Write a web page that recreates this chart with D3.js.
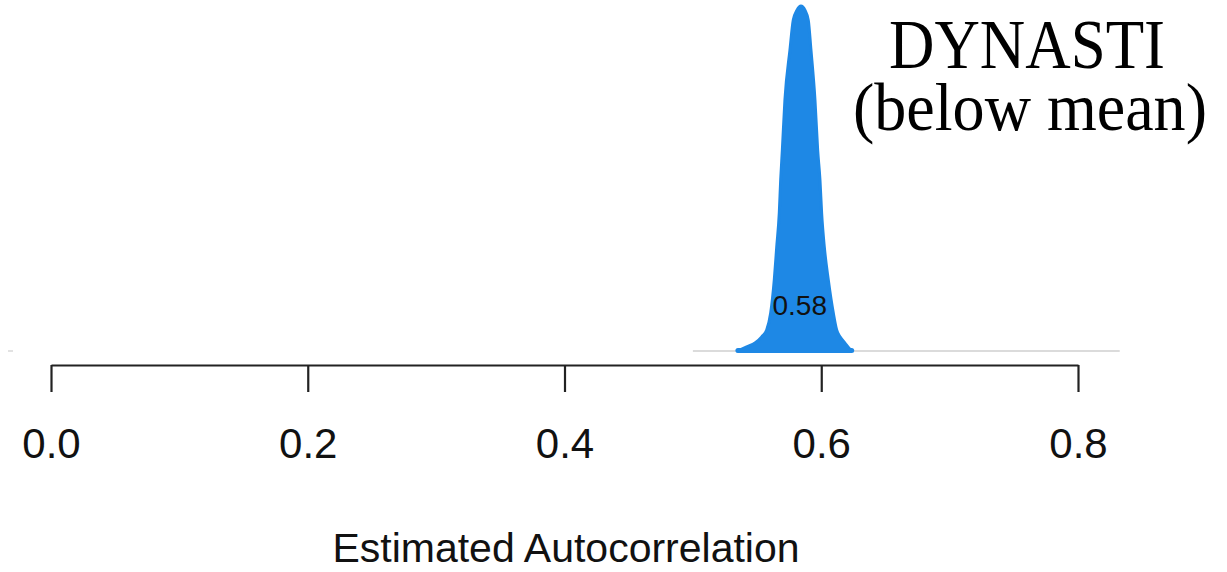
<!DOCTYPE html>
<html>
<head>
<meta charset="utf-8">
<script src="https://cdn.jsdelivr.net/npm/d3@7"></script>
<style>
  html, body { margin: 0; padding: 0; background: #fff; }
  svg { display: block; }
</style>
</head>
<body>
<svg id="chart" width="1227" height="572"></svg>
<script>
// ---- data ----
const tickValues = [0.0, 0.2, 0.4, 0.6, 0.8];
const tickLabels = ["0.0", "0.2", "0.4", "0.6", "0.8"];
// estimated autocorrelation grid and relative posterior density (peak = 100)
const densityX = [0.5351, 0.5419, 0.5484, 0.5536, 0.5575, 0.5606, 0.5634, 0.5653, 0.5673, 0.5684,
                  0.5697, 0.5717, 0.5756, 0.5782, 0.5811, 0.5842, 0.5873, 0.5899, 0.5920, 0.5951,
                  0.5972, 0.5990, 0.6003, 0.6024, 0.6055, 0.6094, 0.6120, 0.6146, 0.6185, 0.6208, 0.6237];
const densityY = [0, 1.2, 2.3, 4.1, 6.1, 11.0, 20.6, 30.1, 40.0, 49.6,
                  58.3, 72.8, 87.2, 95.9, 98.8, 100, 98.8, 95.9, 87.2, 72.8,
                  58.3, 49.6, 40.0, 30.1, 20.6, 11.0, 6.1, 4.1, 2.3, 1.2, 0];
const meanLabel = "0.58";
const meanValue = 0.584;
const baselineRange = [0.5, 0.8325];
const titleLines = ["DYNASTI", "(below mean)"];
const xTitle = "Estimated Autocorrelation";

// ---- layout ----
const svg = d3.select("#chart");
const x = d3.scaleLinear().domain([0, 0.8]).range([51, 1078]);
const y = d3.scaleLinear().domain([0, 100]).range([351, 6]);
const sans = "'Liberation Sans'";
const serif = "'Liberation Serif'";

// gray baseline of the density row
svg.append("line")
  .attr("x1", x(baselineRange[0])).attr("x2", x(baselineRange[1]))
  .attr("y1", y(0)).attr("y2", y(0))
  .attr("stroke", "#cfcfcf").attr("stroke-width", 1.5);
svg.append("line")
  .attr("x1", x(-0.0335)).attr("x2", x(-0.0296))
  .attr("y1", y(0)).attr("y2", y(0))
  .attr("stroke", "#d8d8d8").attr("stroke-width", 1.5);

// density
const pts = densityX.map((d, i) => [d, densityY[i]]);
const area = d3.area()
  .x(d => x(d[0]))
  .y0(y(0))
  .y1(d => y(d[1]))
  .curve(d3.curveMonotoneX);
svg.append("path")
  .datum(pts)
  .attr("d", area)
  .attr("fill", "#1e88e5")
  .attr("stroke", "#1e88e5")
  .attr("stroke-width", 3)
  .attr("stroke-linejoin", "round");
// rounded tail ends
svg.append("line")
  .attr("x1", x(densityX[0])).attr("x2", x(densityX[densityX.length - 1]))
  .attr("y1", y(0) - 0.5).attr("y2", y(0) - 0.5)
  .attr("stroke", "#1e88e5").attr("stroke-width", 5).attr("stroke-linecap", "round");

svg.append("text")
  .attr("x", x(meanValue) - 1).attr("y", 315)
  .attr("text-anchor", "middle")
  .style("font-family", sans)
  .style("font-size", "28px")
  .attr("fill", "#111")
  .text(meanLabel);

// axis
const axisG = svg.append("g").attr("transform", "translate(0,365)");
const axis = d3.axisBottom(x).tickValues(tickValues)
  .tickFormat((d, i) => tickLabels[i]).tickSize(27).tickPadding(36).tickSizeOuter(0);
axisG.call(axis);
axisG.attr("font-family", null).attr("font-size", null);
axisG.select(".domain").attr("stroke", "#222").attr("stroke-width", 2.2);
axisG.selectAll(".tick line").attr("stroke", "#222").attr("stroke-width", 2.2);
axisG.selectAll(".tick text")
  .style("font-family", sans)
  .style("font-size", "42px")
  .attr("fill", "#111");

svg.append("text")
  .attr("x", 566).attr("y", 562)
  .attr("text-anchor", "middle")
  .style("font-family", sans)
  .style("font-size", "41px")
  .attr("fill", "#111")
  .text(xTitle);

// title
svg.append("text")
  .attr("x", 1027).attr("y", 68)
  .attr("text-anchor", "middle")
  .style("font-family", serif)
  .style("font-size", "70px")
  .attr("textLength", 276).attr("lengthAdjust", "spacingAndGlyphs")
  .attr("fill", "#000")
  .text(titleLines[0]);
svg.append("text")
  .attr("x", 1030).attr("y", 130)
  .attr("text-anchor", "middle")
  .style("font-family", serif)
  .style("font-size", "68px")
  .attr("textLength", 354).attr("lengthAdjust", "spacingAndGlyphs")
  .attr("fill", "#000")
  .text(titleLines[1]);
</script>
</body>
</html>
